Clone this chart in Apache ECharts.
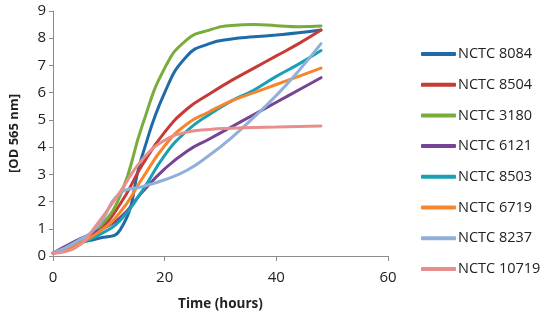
<!DOCTYPE html>
<html><head><meta charset="utf-8">
<script src="https://cdn.jsdelivr.net/npm/echarts@6/dist/echarts.min.js"></script>
<style>html,body{margin:0;padding:0;background:#fff}#c{width:550px;height:320px}</style>
</head><body><div id="c"></div>
<script>
var hours = [0, 4, 8, 12, 16, 20, 24, 28, 32, 36, 40, 44, 48];
var seriesNames = ['NCTC 8084','NCTC 8504','NCTC 3180','NCTC 6121','NCTC 8503','NCTC 6719','NCTC 8237','NCTC 10719'];
var nctc8084  = [0.1, 0.45, 0.64, 0.95, 3.7, 6.0, 7.35, 7.8, 7.97, 8.05, 8.12, 8.2, 8.3];
var nctc8504  = [0.1, 0.4, 0.9, 1.9, 3.35, 4.55, 5.4, 5.95, 6.45, 6.9, 7.35, 7.8, 8.3];
var nctc3180  = [0.1, 0.38, 1.0, 2.2, 4.8, 6.9, 7.95, 8.3, 8.47, 8.5, 8.46, 8.42, 8.45];
var nctc6121  = [0.1, 0.55, 0.92, 1.4, 2.35, 3.2, 3.85, 4.3, 4.75, 5.2, 5.65, 6.1, 6.55];
var nctc8503  = [0.1, 0.4, 0.75, 1.3, 2.4, 3.7, 4.6, 5.2, 5.7, 6.1, 6.6, 7.05, 7.55];
var nctc6719  = [0.1, 0.4, 0.85, 1.6, 2.85, 4.05, 4.85, 5.3, 5.7, 6.0, 6.3, 6.6, 6.9];
var nctc8237  = [0.1, 0.5, 1.1, 2.3, 2.55, 2.8, 3.15, 3.7, 4.35, 5.1, 5.9, 6.8, 7.8];
var nctc10719 = [0.1, 0.3, 1.2, 2.35, 3.55, 4.25, 4.55, 4.65, 4.69, 4.72, 4.74, 4.76, 4.78];
var xTicks = [0, 20, 40, 60];
var yTicks = [0,1,2,3,4,5,6,7,8,9];

var allValues = [nctc8084, nctc8504, nctc3180, nctc6121, nctc8503, nctc6719, nctc8237, nctc10719];
var colors = ['#1f6aa8','#c63b36','#78ac3b','#764493','#1aa0b5','#f5862e','#8fb0d8','#e88f8d'];

var chart = echarts.init(document.getElementById('c'));
var series = seriesNames.map(function(n, i){
  return {
    name: n, type: 'line', smooth: 0.5, showSymbol: false, symbol: 'none',
    lineStyle: {width: 3, color: colors[i], cap: 'round'},
    itemStyle: {color: colors[i]},
    data: hours.map(function(h, k){ return [h, allValues[i][k]]; })
  };
});
var ff = 'Open Sans, Liberation Sans, sans-serif';
var axisFont = {fontFamily: ff, fontSize: 15, color: '#222'};
chart.setOption({
  animation: false,
  color: colors,
  grid: {left: 52, right: 162, top: 11, bottom: 64, containLabel: false},
  xAxis: {
    type: 'value', min: xTicks[0], max: xTicks[xTicks.length-1], interval: 20,
    name: 'Time (hours)', nameLocation: 'middle', nameGap: 41,
    nameTextStyle: {fontFamily: ff, fontSize: 13.5, fontWeight: 'bold', color: '#222'},
    axisLine: {lineStyle: {color: '#8c8c8c', width: 1}},
    axisTick: {show: true, length: 5, lineStyle: {color: '#8c8c8c'}},
    axisLabel: Object.assign({margin: 14}, axisFont),
    splitLine: {show: false}
  },
  yAxis: {
    type: 'value', min: yTicks[0], max: yTicks[yTicks.length-1], interval: 1,
    name: '[OD 565 nm]', nameLocation: 'middle', nameGap: 32, nameRotate: 90,
    nameTextStyle: {fontFamily: ff, fontSize: 13, fontWeight: 'bold', color: '#222'},
    axisLine: {show: true, lineStyle: {color: '#8c8c8c', width: 1}},
    axisTick: {show: true, length: 4, lineStyle: {color: '#8c8c8c'}},
    axisLabel: Object.assign({margin: 7}, axisFont),
    splitLine: {show: false}
  },
  legend: {
    orient: 'vertical', left: 416, top: 41, itemWidth: 35, itemHeight: 4, itemGap: 14.7,
    icon: 'roundRect',
    textStyle: {fontFamily: ff, fontSize: 14.5, color: '#222', lineHeight: 16, padding: [0,0,0,-3]},
    data: seriesNames
  },
  series: series
});
</script></body></html>
